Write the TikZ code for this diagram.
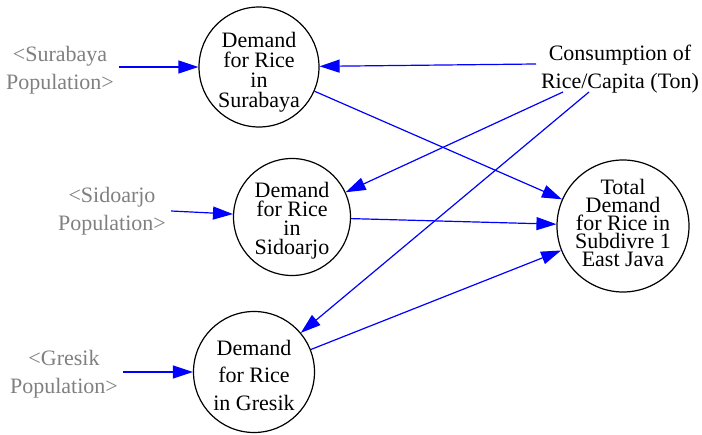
\documentclass[tikz,border=0pt]{standalone}
\usepackage{fontspec}
\newfontfamily\timesfont{Liberation Serif}
\usetikzlibrary{arrows.meta}
\definecolor{linkblue}{RGB}{0,0,255}
\definecolor{shadowgray}{RGB}{128,128,128}
\newcommand{\txt}[1]{\timesfont\fontsize{22}{#1}\selectfont}
\begin{document}
\begin{tikzpicture}[x=1pt,y=-1pt,
  every node/.style={font=\txt{22}, align=center, inner sep=0pt},
  stock/.style={draw=black, line width=1.2pt, circle, minimum size=#1},
  shadow/.style={text=shadowgray, font=\txt{28}, inner sep=5pt},
  aux/.style={font=\txt{28}, inner sep=0pt},
  link/.style={draw=linkblue, line width=1.2pt, -{Triangle[length=20pt,width=13pt]}}
]
\useasboundingbox (0,0) rectangle (702,435);

% auxiliary variables: circles
\node[stock=120pt] (sby) at (259,67) {};
\node[stock=117pt] (sda) at (292,217) {};
\node[stock=121pt] (grs) at (254,372) {};
\node[stock=132pt] (tot) at (623,226) {};

% auxiliary variables: names
\node[font=\txt{20}] (sbyname) at (259,72) {Demand\\for Rice\\in\\Surabaya};
\node[font=\txt{19}] (sdaname) at (292,221) {Demand\\for Rice\\in\\Sidoarjo};
\node[font=\txt{27.5}] (grsname) at (254,375) {Demand\\for Rice\\in Gresik};
\node[font=\txt{18}] (totname) at (623,223) {Total\\Demand\\for Rice in\\Subdivre 1\\East Java};

% shadow variables
\node[shadow] (psby) at (60,70) {<Surabaya\\Population>};
\node[shadow] (psda) at (112,211) {<Sidoarjo\\Population>};
\node[shadow] (pgrs) at (64,374) {<Gresik\\Population>};

% constant and its link origins
\node[aux] (cons) at (620,69) {Consumption of\\Rice/Capita (Ton)};
\coordinate (c1) at (536,64);
\coordinate (c2) at (563,92);
\coordinate (c3) at (589,92);

% links
\draw[link] (psby.east |- sby.center) -- (sby);
\draw[link] (psda.east) -- (sda);
\draw[link] (pgrs.east |- grs.center) -- (grs);
\draw[link] (c1) -- (sby);
\draw[link] (c2) -- (sda);
\draw[link] (c3) -- (grs);
\draw[link] (sby) -- (tot);
\draw[link] (sda) -- (tot);
\draw[link] (grs) -- (tot);
\end{tikzpicture}
\end{document}
